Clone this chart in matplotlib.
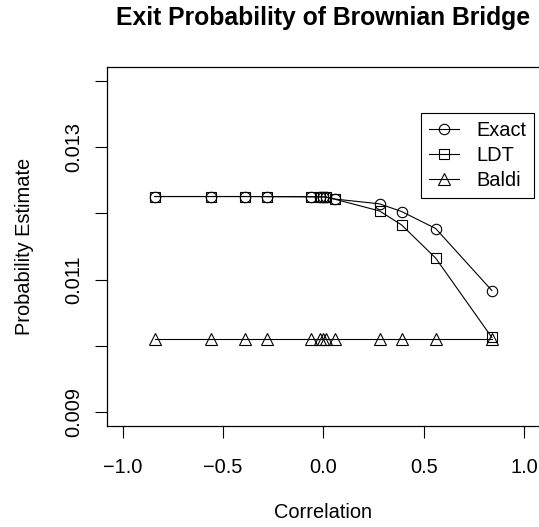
import matplotlib
matplotlib.use("Agg")
import matplotlib.pyplot as plt

# Correlation values and the three probability estimates
correlation = [-0.84, -0.56, -0.39, -0.28, -0.06, -0.015, 0.0, 0.015, 0.06, 0.28, 0.39, 0.56, 0.84]
exact = [0.012253, 0.012253, 0.012253, 0.012252, 0.012250, 0.012248, 0.012247, 0.012245, 0.012214,
         0.012143, 0.012027, 0.011771, 0.010837]
ldt = [0.012253, 0.012253, 0.012253, 0.012252, 0.012249, 0.012247, 0.012246, 0.012243, 0.012210,
       0.012036, 0.011825, 0.011325, 0.010130]
baldi = [0.010105] * len(correlation)

x_ticks = [-1.0, -0.5, 0.0, 0.5, 1.0]
x_tick_labels = ["\u22121.0", "\u22120.5", "0.0", "0.5", "1.0"]
y_ticks = [0.009, 0.010, 0.011, 0.012, 0.013, 0.014]
y_tick_labels = ["0.009", "", "0.011", "", "0.013", ""]

plt.rcParams["font.family"] = ["Liberation Sans", "DejaVu Sans"]

W, H = 539, 527
fig = plt.figure(figsize=(W / 100, H / 100), dpi=100)
left, right, top, bottom = 106.7, 540.0, 67.3, 425.7
ax = fig.add_axes([left / W, 1 - bottom / H, (right - left) / W, (bottom - top) / H])

lw = 0.8
ax.plot(correlation, exact, color="black", lw=lw, marker="o", ms=7.5, mfc="none", mec="black", mew=lw, label="Exact")
ax.plot(correlation, ldt, color="black", lw=lw, marker="s", ms=6.5, mfc="none", mec="black", mew=lw, label="LDT")
ax.plot(correlation, baldi, color="black", lw=lw, marker="^", ms=9, mfc="none", mec="black", mew=lw, label="Baldi")

ax.set_xlim(-1.08, 1.08)
ax.set_ylim(0.0088, 0.0142)
ax.set_xticks(x_ticks)
ax.set_xticklabels(x_tick_labels)
ax.set_yticks(y_ticks)
ax.set_yticklabels(y_tick_labels, rotation=90, va="center")

ax.tick_params(axis="both", length=8.6, width=0.8, color="black", labelsize=14.4, direction="out")
ax.tick_params(axis="x", pad=15)
ax.tick_params(axis="y", pad=8)
for sp in ax.spines.values():
    sp.set_linewidth(0.9)

ax.set_xlabel("Correlation", fontsize=14.4)
ax.xaxis.set_label_coords(0.5, (bottom - 512) / (bottom - top))
ax.xaxis.label.set_va("center")
ax.set_ylabel("Probability Estimate", fontsize=14.4)
ax.yaxis.set_label_coords((25 - left) / (right - left), 0.5)
ax.yaxis.label.set_va("center")

fig.text((left + right) / 2 / W, 1 - 18 / H, "Exit Probability of Brownian Bridge",
         ha="center", va="center", fontsize=17.8, fontweight="bold")

leg = ax.legend(loc="upper right", bbox_to_anchor=(534 / W, 1 - 113 / H), bbox_transform=fig.transFigure,
                borderaxespad=0, fontsize=14.4, frameon=True, fancybox=False, framealpha=1,
                edgecolor="black", handlelength=1.5, handletextpad=0.85, labelspacing=0.3, borderpad=0.4)
leg.get_frame().set_linewidth(0.8)

fig.savefig("out.png", dpi=100)
